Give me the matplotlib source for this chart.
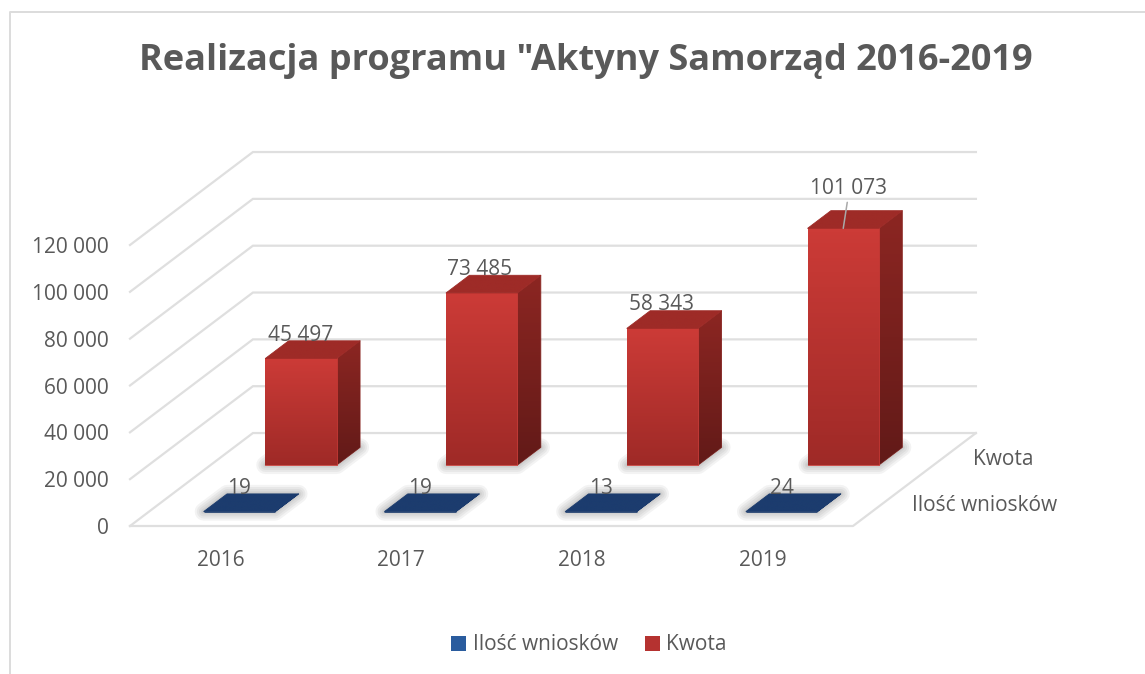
import numpy as np
import matplotlib
matplotlib.use("Agg")
import matplotlib.pyplot as plt
from matplotlib.colors import LinearSegmentedColormap
from matplotlib.lines import Line2D
from matplotlib.patches import Patch, Polygon

years = ["2016", "2017", "2018", "2019"]
series_names = ["Ilość wniosków", "Kwota"]
ilosc = [19, 19, 13, 24]
kwota = [45497, 73485, 58343, 101073]
y_ticks = [0, 20000, 40000, 60000, 80000, 100000, 120000]

W, H = 1145, 674
TXT = "#595959"
GRID = "#dfdfdf"
FS = 15
# fake 3D: how far the back wall sits from the front, in data units
DX = 0.68
DY = 39700
BAR_W = 0.395
BAR_D = 0.19
DEPTHS = [0.25, 0.751]

plt.rcParams["font.family"] = ["Open Sans", "DejaVu Sans"]
fig = plt.figure(figsize=(W / 100, H / 100), dpi=100)
ax = fig.add_axes([130 / W, 1 - 526 / H, 723 / W, 281 / H])
ax.set_xlim(-0.5, 3.5)
ax.set_ylim(0, 120000)
for s in ax.spines.values():
    s.set_visible(False)


def pr(cat, val, depth):
    return cat + depth * DX, val + depth * DY


def face(pts, top, bottom, z):
    cmap = LinearSegmentedColormap.from_list("f", [bottom, top])
    xs = [p[0] for p in pts]
    ys = [p[1] for p in pts]
    poly = Polygon(pts, closed=True, facecolor="none", edgecolor=top, lw=0.6,
                   joinstyle="round", clip_on=False, zorder=z)
    ax.add_patch(poly)
    im = ax.imshow(np.linspace(1, 0, 64).reshape(-1, 1), cmap=cmap, aspect="auto",
                   extent=(min(xs), max(xs), min(ys), max(ys)), zorder=z)
    im.set_clip_path(poly)
    im.set_clip_box(fig.bbox)


def shadow(pts, z):
    for lw in [13, 10, 7, 4, 2]:
        ax.add_patch(Polygon(pts, closed=True, facecolor="#666666", edgecolor="#666666",
                             lw=lw, alpha=0.08, joinstyle="round", clip_on=False, zorder=z))


def bar3d(i, val, depth, cols, z):
    x0, x1 = i - BAR_W / 2, i + BAR_W / 2
    d0, d1 = depth - BAR_D / 2, depth + BAR_D / 2
    floor = [pr(x0, 0, d0), pr(x1, 0, d0), pr(x1, 0, d1), pr(x0, 0, d1)]
    shadow(floor, z)
    front = [pr(x0, 0, d0), pr(x1, 0, d0), pr(x1, val, d0), pr(x0, val, d0)]
    side = [pr(x1, 0, d0), pr(x1, 0, d1), pr(x1, val, d1), pr(x1, val, d0)]
    top = [pr(x0, val, d0), pr(x1, val, d0), pr(x1, val, d1), pr(x0, val, d1)]
    face(side, cols[2], cols[3], z + 1)
    face(front, cols[0], cols[1], z + 1)
    face(top, cols[4], cols[4], z + 2)


# walls and floor
for v in y_ticks:
    ax.plot(*zip(pr(-0.5, v, 0), pr(-0.5, v, 1), pr(3.5, v, 1)), color=GRID, lw=1.6,
            clip_on=False, zorder=1, solid_joinstyle="miter")
ax.plot(*zip(pr(-0.5, 0, 0), pr(3.5, 0, 0), pr(3.5, 0, 1)), color=GRID, lw=1.6,
        clip_on=False, zorder=1)

red = ["#cc3b37", "#9f2a27", "#8c2622", "#621a18", "#9e2b27"]
blue = ["#1c3c6e", "#1c3c6e", "#1c3c6e", "#1c3c6e", "#1c3c6e"]
for i in range(len(years)):
    bar3d(i, kwota[i], DEPTHS[1], red, 3)
    bar3d(i, ilosc[i], DEPTHS[0], blue, 8)

# data labels
kw_off = [(0, 23), (-2, 23), (-1, 24), (5, 40)]
for i, v in enumerate(kwota):
    x, y = pr(i, v, DEPTHS[1] - BAR_D / 2)
    ax.annotate(f"{v:,}".replace(",", " "), (x, y), xytext=kw_off[i], textcoords="offset pixels",
                ha="center", va="center", color=TXT, fontsize=FS, zorder=12, annotation_clip=False)
# the 2019 label was dragged off the bar, so it has a leader line
x, y = pr(3, kwota[3], DEPTHS[1] - BAR_D / 2)
ax.annotate("", (x, y), xytext=(4, 26), textcoords="offset pixels", annotation_clip=False, zorder=12,
            arrowprops=dict(arrowstyle="-", color="#a9a9a9", lw=1.1, shrinkA=0, shrinkB=0))
for i, v in enumerate(ilosc):
    x, y = pr(i, v, DEPTHS[0] - BAR_D / 2)
    ax.annotate(str(v), (x, y), xytext=(0, 23), textcoords="offset pixels", ha="center", va="center",
                color=TXT, fontsize=FS, zorder=12, annotation_clip=False)

# axes text
ax.set_xticks(range(len(years)), years)
ax.set_yticks(y_ticks, [f"{v:,}".replace(",", " ") for v in y_ticks])
ax.tick_params(axis="x", length=0, pad=17, labelsize=FS, labelcolor=TXT)
ax.tick_params(axis="y", length=0, pad=15, labelsize=FS, labelcolor=TXT)
for name, d in zip(series_names, DEPTHS):
    ax.annotate(name, pr(3.5, 0, d), xytext=(28, -3), textcoords="offset pixels", ha="left", va="center",
                color=TXT, fontsize=FS, annotation_clip=False)

fig.text(586 / W, 1 - 61 / H, 'Realizacja programu "Aktyny Samorząd 2016-2019', ha="center", va="center",
         fontsize=26, fontweight="bold", color=TXT)

handles = [Patch(facecolor="#2a5c9e"), Patch(facecolor="#b53230")]
fig.legend(handles, series_names, ncol=2, loc="center", bbox_to_anchor=(589 / W, 1 - 645 / H),
           frameon=False, fontsize=FS, labelcolor=TXT, handlelength=0.72, handleheight=0.72,
           handletextpad=0.3, columnspacing=1.3)

# chart frame: only the top and left edges are inside the crop
fig.add_artist(Line2D([9.5 / W, 9.5 / W, 1], [0, 1 - 11.5 / H, 1 - 11.5 / H], transform=fig.transFigure,
                      color="#dcdcdc", lw=1.4))

fig.savefig("out.png", dpi=100)
